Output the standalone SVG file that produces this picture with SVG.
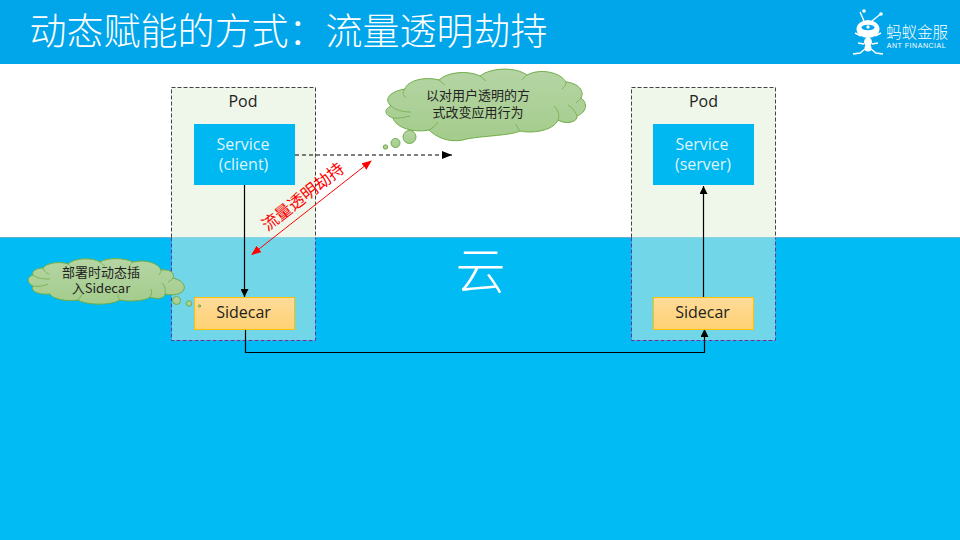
<svg xmlns="http://www.w3.org/2000/svg" width="960" height="540" viewBox="0 0 960 540">
<style>
text{font-family:"Open Sans","Noto Sans CJK SC",sans-serif;text-anchor:middle}
.cjk{font-family:"Noto Sans CJK SC",sans-serif}
.pod{fill:#eff6ea}
.podl{fill:#71d6e7}
.podb{fill:none;stroke:#7030a0;stroke-width:1;stroke-dasharray:4 2}
.podt{stroke:#444;stroke-width:1;fill:none;stroke-dasharray:4 2}
.svc{fill:#00b8f1}
.side{fill:url(#sc);stroke:#ffc000;stroke-width:1}
.cloud{fill:url(#cg);stroke:#70ad47;stroke-width:1}
.line{fill:none;stroke:#000;stroke-width:1.200}
</style>
<defs>
<linearGradient id="sc" x1="0" y1="0" x2="0" y2="1"><stop offset="0" stop-color="#fedb9b"/><stop offset="1" stop-color="#fed172"/></linearGradient>
<linearGradient id="cg" x1="0" y1="0" x2="0" y2="1"><stop offset="0" stop-color="#b5d5a4"/><stop offset="1" stop-color="#a4cc8c"/></linearGradient>
<marker id="ab" viewBox="0 0 8 8" markerWidth="8" markerHeight="8" refX="8" refY="4" orient="auto" markerUnits="userSpaceOnUse"><path d="M0 0L8 4L0 8Z" fill="#000"/></marker>
<marker id="ad" viewBox="0 0 10 8" markerWidth="10" markerHeight="8" refX="10" refY="4" orient="auto" markerUnits="userSpaceOnUse"><path d="M0 0L10 4L0 8Z" fill="#000"/></marker>
<marker id="ar" viewBox="0 0 10 8" markerWidth="10" markerHeight="8" refX="9" refY="4" orient="auto-start-reverse" markerUnits="userSpaceOnUse"><path d="M0 0L10 4L0 8Z" fill="#f00"/></marker>
</defs>
<rect id="bg" width="960" height="540" fill="#fff"/>
<rect id="sea" y="237" width="960" height="303" fill="#00bbf4"/>
<line x1="0" y1="237.500" x2="960" y2="237.500" stroke="#a6a6a6" stroke-opacity=".6"/>
<g id="header">
<rect width="960" height="64" fill="#00a5ea"/>
<text x="288.500" y="45" class="cjk" font-size="37" font-weight="300" fill="#fff">动态赋能的方式：流量透明劫持</text>
</g>
<g id="logo" fill="#fff" stroke="#fff">
<ellipse cx="868" cy="29" rx="11.500" ry="9" stroke="none"/>
<ellipse cx="868" cy="27.500" rx="6.500" ry="2.800" fill="#00a5ea" stroke="none"/>
<circle cx="868" cy="27" r="1.700" stroke="none"/>
<ellipse cx="868" cy="42" rx="4" ry="4.500" stroke="none"/>
<ellipse cx="868" cy="48" rx="3.500" ry="3.500" stroke="none"/>
<path d="M864 21L860 12M872 21L880 14.500M861 36L855 33M875 36L881 33M864 44L858 43M872 44L878 43M865 49L860 53L853 54M871 49L876 53L883 54" fill="none" stroke-width="1.400"/>
<circle cx="864" cy="11" r="1.800" stroke="none"/>
<circle cx="881" cy="14" r="1.800" stroke="none"/>
<text x="917" y="38" class="cjk" font-size="15.500" font-weight="300" stroke="none" fill="#fff">蚂蚁金服</text>
<text x="916.500" y="47.500" font-size="7" stroke="none" fill="#fff" style="font-family:'Liberation Sans',sans-serif" letter-spacing=".55">ANT FINANCIAL</text>
</g>
<g id="pod-left">
<rect class="pod" x="171.500" y="87.500" width="144" height="150"/>
<rect class="podl" x="171.500" y="237.500" width="144" height="103"/>
<path class="podt" d="M171.500 237.500V87.500H315.500V237.500"/>
<path class="podb" d="M171.500 237.500V340.500H315.500V237.500"/>
<text x="243" y="107" font-size="16" fill="#222">Pod</text>
</g>
<g id="pod-right">
<rect class="pod" x="631.500" y="87.500" width="144" height="150"/>
<rect class="podl" x="631.500" y="237.500" width="144" height="103"/>
<path class="podt" d="M631.500 237.500V87.500H775.500V237.500"/>
<path class="podb" d="M631.500 237.500V340.500H775.500V237.500"/>
<text x="703.500" y="107" font-size="16" fill="#222">Pod</text>
</g>
<g id="connectors">
<path class="line" d="M244.500 185V297" marker-end="url(#ab)"/>
<path class="line" d="M245.500 328V352.500H704.500V329" marker-end="url(#ab)"/>
<path class="line" d="M703.500 297V186" marker-end="url(#ab)"/>
<path d="M295 155H452" fill="none" stroke="#000" stroke-width="1" stroke-dasharray="4 3" marker-end="url(#ad)"/>
<path d="M371 161L252 254.500" fill="none" stroke="#f00" stroke-width="1" marker-start="url(#ar)" marker-end="url(#ar)"/>
</g>
<g id="service-client">
<rect class="svc" x="194" y="124" width="101" height="61"/>
<text font-size="16" fill="#dff4fb"><tspan x="243" y="149.500">Service</tspan><tspan x="243.500" y="170">(client)</tspan></text>
</g>
<g id="service-server">
<rect class="svc" x="653" y="124" width="101" height="61"/>
<text font-size="16" fill="#dff4fb"><tspan x="702" y="149.500">Service</tspan><tspan x="703" y="170">(server)</tspan></text>
</g>
<g id="sidecar-left">
<rect class="side" x="194.500" y="297.500" width="100" height="32"/>
<text x="243.500" y="318" font-size="16" fill="#222">Sidecar</text>
</g>
<g id="sidecar-right">
<rect class="side" x="653.500" y="297.500" width="100" height="32"/>
<text x="702.500" y="318" font-size="16" fill="#222">Sidecar</text>
</g>
<g id="cloud-top">
<path class="cloud" d="M405 89C407 81 424 76 439 80C447 72 468 70 480 76C492 67 516 67 527 75C540 68 560 72 566 82C578 83 585 91 581 98C588 103 587 112 577 116C578 122 566 125 558 120C554 130 534 134 520 131C510 136 475 136 463 140C447 143 435 136 429 130C414 133 396 128 393 118C384 115 384 109 391 106C384 100 388 92 405 89Z"/>
<path d="M405 89C402 92 403 95 406 98M391 106C397 111 405 112 411 112M393 118C398 119 405 117 410 116M429 130C433 128 436 125 438 122M520 131C518 128 516 126 516 124M558 120C560 115 558 110 554 106M577 116C575 111 573 108 568 105M581 98C580 100 578 101 576 103M566 82C566 85 565 86 562 89M527 75C525 77 523 78 522 80M480 76C482 78 484 79 486 81M439 80C441 82 443 83 445 85" fill="none" stroke="#70ad47" stroke-width=".8"/>
<circle class="cloud" cx="409.500" cy="137" r="6.500"/>
<circle class="cloud" cx="395.500" cy="143" r="4.500"/>
<circle class="cloud" cx="385.500" cy="147" r="2.200"/>
<text class="cjk" font-size="13" fill="#222"><tspan x="478" y="100">以对用户透明的方</tspan><tspan x="478" y="117">式改变应用行为</tspan></text>
</g>
<g id="cloud-left">
<path class="cloud" d="M43 268C46 263 60 261 68 264C74 258 92 257 100 262C108 257 125 258 133 262C146 259 158 263 161 270C170 269 175 273 173 278C182 280 187 286 183 291C178 296 170 295 165 294C165 298 158 300 150 297C146 301 128 302 120 300C110 306 85 305 78 300C68 302 52 299 50 294C38 295 30 291 33 286C27 283 26 277 33 275C31 271 37 268 43 268Z"/>
<path d="M43 268C44 271 46 273 49 274M33 275C38 279 45 279 50 279M33 286C38 287 44 286 48 284M78 300C80 298 81 296 82 294M120 300C118 298 118 296 118 294M150 297C152 294 152 292 151 289M165 294C166 290 165 286 162 283M173 278C172 280 170 281 168 282M161 270C161 272 160 273 159 275M133 262C131 264 130 265 129 266M100 262C102 264 103 265 105 266M68 264C70 266 71 267 73 268" fill="none" stroke="#70ad47" stroke-width=".8"/>
<circle class="cloud" cx="176.500" cy="300.500" r="4"/>
<circle class="cloud" cx="189" cy="303.500" r="2.700"/>
<circle class="cloud" cx="199.500" cy="306" r="1.200"/>
<text class="cjk" font-size="13" fill="#222"><tspan x="101" y="276.500">部署时动态插</tspan><tspan x="101" y="293">入Sidecar</tspan></text>
</g>
<text id="yun" x="480.500" y="289" class="cjk" font-size="50" font-weight="300" fill="#fff">云</text>
<text id="hijack" transform="translate(303 197) rotate(-38)" y="5.500" class="cjk" font-size="16.500" fill="#f00">流量透明劫持</text>
</svg>
